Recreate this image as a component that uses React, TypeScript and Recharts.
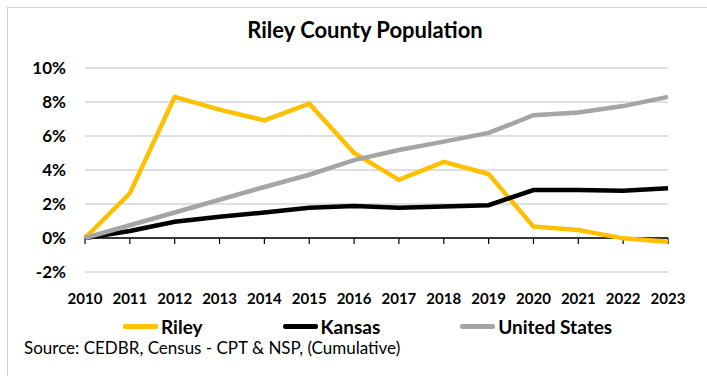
import { LineChart, Line, XAxis, YAxis, CartesianGrid, ReferenceLine } from "recharts";

const years = ["2010", "2011", "2012", "2013", "2014", "2015", "2016", "2017", "2018", "2019", "2020", "2021", "2022", "2023"];
const riley = [0, 2.63, 8.3, 7.55, 6.92, 7.9, 5.0, 3.42, 4.48, 3.76, 0.67, 0.47, -0.02, -0.22];
const kansas = [0, 0.41, 0.96, 1.25, 1.5, 1.78, 1.88, 1.78, 1.86, 1.93, 2.82, 2.82, 2.78, 2.92];
const unitedStates = [0, 0.75, 1.5, 2.25, 3.0, 3.72, 4.58, 5.18, 5.67, 6.18, 7.22, 7.38, 7.76, 8.3];
const yTicks = [-2, 0, 2, 4, 6, 8, 10];

const series = [
  { key: "riley", name: "Riley", color: "#FFC000" },
  { key: "kansas", name: "Kansas", color: "#000000" },
  { key: "us", name: "United States", color: "#A5A5A5" },
];

const data = years.map((year, i) => ({
  year,
  riley: riley[i],
  kansas: kansas[i],
  us: unitedStates[i],
}));

const FONT = "Lato, 'Open Sans', sans-serif";

export default function App() {
  return (
    <div
      style={{
        position: "absolute",
        left: 0,
        top: 0,
        width: 707,
        height: 376,
        background: "#fff",
        overflow: "hidden",
        fontFamily: FONT,
      }}
    >
      <div
        style={{
          position: "absolute",
          left: 7,
          top: 7,
          width: 740,
          height: 380,
          borderLeft: "1px solid #d0d0d0",
          borderTop: "1px solid #d0d0d0",
        }}
      />
      <div
        style={{
          position: "absolute",
          left: 0,
          width: 730,
          top: 16,
          textAlign: "center",
          fontWeight: 700,
          fontSize: 22,
          color: "#000",
        }}
      >
        Riley County Population
      </div>
      <div style={{ position: "absolute", left: 0, top: 0 }}>
        <LineChart width={707} height={320} data={data} margin={{ top: 68, right: 39, left: 0, bottom: 18 }}>
          <CartesianGrid vertical={false} stroke="#bfbfbf" strokeWidth={1} />
          <XAxis
            dataKey="year"
            axisLine={false}
            tickLine={false}
            tickMargin={15}
            height={30}
            interval={0}
            tick={{ fill: "#000", fontSize: 15, fontWeight: 700, fontFamily: FONT }}
          />
          <YAxis
            domain={[-2, 10]}
            ticks={yTicks}
            width={85}
            axisLine={false}
            tickLine={false}
            tickMargin={13}
            tickFormatter={(v) => `${v}%`}
            tick={{ fill: "#000", fontSize: 17, fontWeight: 700, fontFamily: FONT }}
          />
          <ReferenceLine y={0} stroke="#000" strokeWidth={1.5} />
          {years.map((y) => (
            <ReferenceLine
              key={y}
              segment={[
                { x: y, y: 0 },
                { x: y, y: -0.35 },
              ]}
              stroke="#000"
              strokeWidth={1.2}
            />
          ))}
          {series.map((s) => (
            <Line
              key={s.key}
              type="linear"
              dataKey={s.key}
              name={s.name}
              stroke={s.color}
              strokeWidth={4.5}
              dot={false}
              isAnimationActive={false}
            />
          ))}
        </LineChart>
      </div>
      <div
        style={{
          position: "absolute",
          left: 123,
          top: 315,
          display: "flex",
          gap: 80,
          alignItems: "center",
          fontWeight: 700,
          fontSize: 19,
        }}
      >
        {series.map((s) => (
          <div key={s.key} style={{ display: "flex", alignItems: "center" }}>
            <div style={{ width: 35, height: 5, borderRadius: 2, background: s.color, marginRight: 3 }} />
            <span>{s.name}</span>
          </div>
        ))}
      </div>
      <div style={{ position: "absolute", left: 24, top: 337, fontSize: 17 }}>
        Source: CEDBR, Census - CPT &amp; NSP, (Cumulative)
      </div>
    </div>
  );
}
